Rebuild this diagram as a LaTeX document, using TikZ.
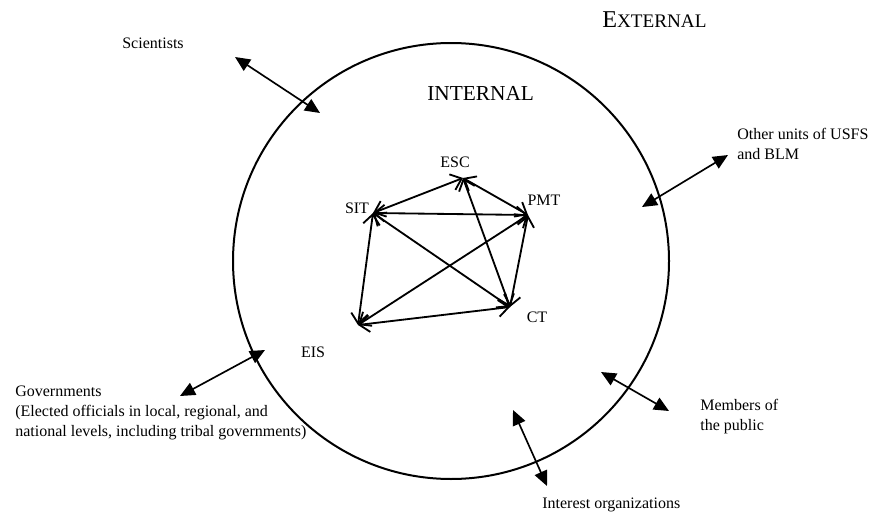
\documentclass[tikz,border=0pt]{standalone}
\usepackage{fontspec}
\setmainfont{Liberation Serif}
\usetikzlibrary{arrows.meta}

\begin{document}
\begin{tikzpicture}[x=0.6pt, y=-0.6pt,
  lbl/.style={font=\fontsize{9.6}{12}\selectfont, align=left, anchor=west, inner sep=0pt},
  vlbl/.style={font=\fontsize{9.6}{12}\selectfont, inner sep=0pt},
  link/.style={{Triangle[length=9pt,width=8pt]}-{Triangle[length=9pt,width=8pt]}, line width=1pt},
  tie/.style={{Straight Barb[length=6pt,width=10pt]}-{Straight Barb[length=6pt,width=10pt]}, line width=1.1pt}]
  \fill[white] (0,0) rectangle (875,514);
  \useasboundingbox (0,0) rectangle (875,514);
  % the two zones
  \draw[line width=1.2pt] (451,261) circle[radius=130.8pt];
  \node[anchor=base west, inner sep=0pt] (external) at (602,28)
    {\fontsize{14.5}{16}\selectfont E\fontsize{11.5}{13}\selectfont XTERNAL};
  \node[anchor=base west, inner sep=0pt, font=\fontsize{12.8}{15}\selectfont] (internal) at (427,100) {INTERNAL};
  % internal teams
  \coordinate (esc) at (463,178);
  \coordinate (pmt) at (528,215);
  \coordinate (sit) at (373,213);
  \coordinate (ct)  at (510,307);
  \coordinate (eis) at (358,325);
  \node[vlbl] (esc-lbl) at (455,162) {ESC};
  \node[vlbl] (pmt-lbl) at (544,200) {PMT};
  \node[vlbl] (sit-lbl) at (357,208) {SIT};
  \node[vlbl] (ct-lbl)  at (537,317) {CT};
  \node[vlbl] (eis-lbl) at (313,352) {EIS};
  \draw[tie] (esc) -- (pmt);
  \draw[tie] (esc) -- (sit);
  \draw[tie] (esc) -- (ct);
  \draw[tie] (sit) -- (pmt);
  \draw[tie] (sit) -- (ct);
  \draw[tie] (sit) -- (eis);
  \draw[tie] (pmt) -- (ct);
  \draw[tie] (pmt) -- (eis);
  \draw[tie] (ct)  -- (eis);
  % external partners
  \node[lbl] (sci) at (122,43) {Scientists};
  \node[lbl] (usfs) at (737,144) {Other units of USFS\\and BLM};
  \node[lbl] (gov) at (15,413) {Governments\\(Elected officials in local, regional, and\\national levels, including tribal governments)};
  \node[lbl] (pub) at (700,417) {Members of\\the public};
  \node[lbl] (org) at (542,505) {Interest organizations};
  \coordinate (sci-out)  at (235,57);
  \coordinate (sci-in)   at (320,113);
  \coordinate (usfs-out) at (728,155);
  \coordinate (usfs-in)  at (642,207);
  \coordinate (gov-out)  at (180,396);
  \coordinate (gov-in)   at (265,350);
  \coordinate (pub-in)   at (601,372);
  \coordinate (pub-out)  at (669,411);
  \coordinate (org-in)   at (513,410);
  \coordinate (org-out)  at (547,486);
  \draw[link] (sci-out) -- (sci-in);
  \draw[link] (usfs-out) -- (usfs-in);
  \draw[link] (gov-out) -- (gov-in);
  \draw[link] (pub-in) -- (pub-out);
  \draw[link] (org-in) -- (org-out);
\end{tikzpicture}
\end{document}
